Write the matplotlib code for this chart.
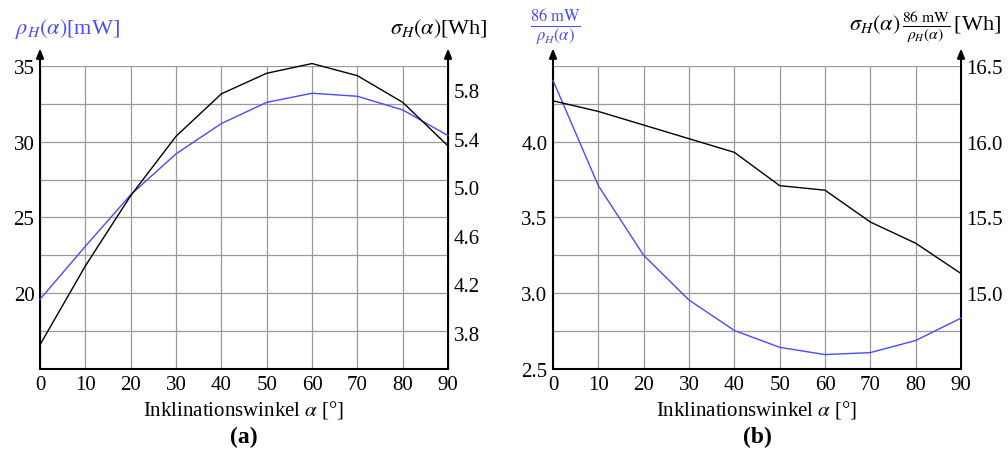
import matplotlib
matplotlib.use("Agg")
import matplotlib.pyplot as plt
import numpy as np

plt.rcParams['font.family'] = ['Liberation Serif', 'DejaVu Serif']
plt.rcParams['mathtext.fontset'] = 'stix'

# data
angle = [0, 10, 20, 30, 40, 50, 60, 70, 80, 90]
rho_h = [19.6, 23.1, 26.5, 29.2, 31.2, 32.6, 33.2, 33.0, 32.1, 30.4]        # mW
sigma_h = [3.70, 4.35, 4.93, 5.42, 5.77, 5.94, 6.02, 5.92, 5.70, 5.34]      # Wh
ratio = [4.405, 3.71, 3.25, 2.955, 2.754, 2.643, 2.595, 2.608, 2.688, 2.836]  # 86 mW / rho
sigma_scaled = [16.27, 16.20, 16.11, 16.02, 15.93, 15.71, 15.68, 15.47, 15.33, 15.13]

left_ticks_a = [20, 25, 30, 35]
right_ticks_a = [3.8, 4.2, 4.6, 5.0, 5.4, 5.8]
left_ticks_b = [2.5, 3.0, 3.5, 4.0]
right_ticks_b = [15.0, 15.5, 16.0, 16.5]

BLUE = '#4a4aff'
FS = 15      # ticks / x label
FS_TOP = 16  # axis titles at the top

fig = plt.figure(figsize=(10.08, 4.6), dpi=100, facecolor='white')


def setup_panel(rect, ylim_l, ylim_r, yl_ticks, yl_minor, yr_ticks, fmt_l, fmt_r):
    ax = fig.add_axes(rect)
    ax.set_xlim(0, 90)
    ax.set_ylim(*ylim_l)
    ax.set_xticks(angle)
    ax.set_yticks(yl_ticks)
    ax.set_yticklabels([fmt_l.format(v) for v in yl_ticks])
    ax.set_yticks(yl_minor, minor=True)
    ax.grid(True, which='both', color='#9a9a9a', linewidth=0.9)
    ax.set_axisbelow(True)
    ax.tick_params(which='both', length=0, labelsize=FS, pad=4)
    for s in ['top', 'right', 'left']:
        ax.spines[s].set_visible(False)
    ax.spines['bottom'].set_linewidth(1.5)

    ax2 = ax.twinx()
    ax2.set_ylim(*ylim_r)
    ax2.set_yticks(yr_ticks)
    ax2.set_yticklabels([fmt_r.format(v) for v in yr_ticks])
    ax2.tick_params(length=0, labelsize=FS, pad=4)
    for s in ['top', 'right', 'left', 'bottom']:
        ax2.spines[s].set_visible(False)

    # vertical axis lines with arrow heads
    for xf in (0, 1):
        ax.annotate('', xy=(xf, 1.058), xytext=(xf, 0), xycoords='axes fraction',
                    arrowprops=dict(arrowstyle='-|>,head_width=0.22,head_length=0.55',
                                    color='black', lw=1.5, shrinkA=0, shrinkB=0),
                    annotation_clip=False)
    ax.set_xlabel(r'Inklinationswinkel $\alpha$ [°]', fontsize=FS, labelpad=3)
    return ax, ax2


# (a)
ax_a, ax_a2 = setup_panel([0.0397, 0.1957, 0.4048, 0.6587], (15, 35), (3.5, 6.0),
                          left_ticks_a, [17.5, 22.5, 27.5, 32.5], right_ticks_a,
                          '{:g}', '{:.1f}')
ax_a.plot(angle, rho_h, color=BLUE, lw=1.0, clip_on=False, zorder=3)
ax_a2.plot(angle, sigma_h, color='black', lw=1.0, clip_on=False, zorder=3)
fig.text(0.015, 0.938, r'$\rho_H(\alpha)$[mW]', color=BLUE, fontsize=FS_TOP, ha='left', va='center')
fig.text(0.484, 0.938, r'$\sigma_H(\alpha)$[Wh]', color='black', fontsize=FS_TOP, ha='right', va='center')
fig.text(0.242, 0.05, '(a)', fontsize=17, fontweight='bold', ha='center', va='center')

# (b)
ax_b, ax_b2 = setup_panel([0.5486, 0.1957, 0.4048, 0.6587], (2.5, 4.5), (14.5, 16.5),
                          left_ticks_b, [2.75, 3.25, 3.75, 4.25, 4.5], right_ticks_b,
                          '{:.1f}', '{:.1f}')
ax_b.plot(angle, ratio, color=BLUE, lw=1.0, clip_on=False, zorder=3)
ax_b2.plot(angle, sigma_scaled, color='black', lw=1.0, clip_on=False, zorder=3)
fig.text(0.551, 0.94, r'$\frac{86\ \mathrm{mW}}{\rho_H(\alpha)}$', color=BLUE, fontsize=FS_TOP + 1,
         ha='center', va='center')
fig.text(0.993, 0.94, r'$\sigma_H(\alpha)\,\frac{86\ \mathrm{mW}}{\rho_H(\alpha)}\,$[Wh]',
         color='black', fontsize=FS_TOP, ha='right', va='center')
fig.text(0.751, 0.05, '(b)', fontsize=17, fontweight='bold', ha='center', va='center')

fig.savefig('out.png', dpi=100)
